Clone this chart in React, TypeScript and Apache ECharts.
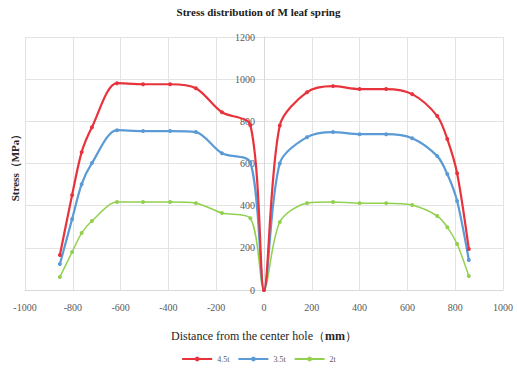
import React, { useEffect, useRef } from "react";
import * as echarts from "echarts";

const seriesNames = ["4.5t", "3.5t", "2t"];
const xPositions = [-854, -803, -763, -720, -615, -506, -393, -285, -176, -57, 0, 66, 180, 289, 400, 511, 620, 725, 767, 808, 857];
const stress45 = [166, 450, 654, 772, 981, 976, 976, 957, 843, 782, 0, 780, 938, 967, 953, 953, 929, 825, 716, 554, 194];
const stress35 = [123, 336, 502, 602, 758, 754, 754, 749, 649, 605, 0, 600, 725, 749, 739, 739, 720, 635, 550, 422, 142];
const stress2 = [62, 180, 270, 327, 417, 417, 417, 412, 365, 340, 0, 322, 412, 417, 412, 412, 403, 351, 298, 218, 66];
const colors = ["#e8323c", "#5b9bd5", "#92d050"];
const xTicks = { min: -1000, max: 1000, interval: 200 };
const yTicks = { min: 0, max: 1200, interval: 200 };

const pairs = (vals: number[]) => xPositions.map((x, i) => [x, vals[i]]);

export default function App() {
  const ref = useRef<HTMLDivElement>(null);
  useEffect(() => {
    if (!ref.current) return;
    const chart = echarts.init(ref.current, undefined, { renderer: "svg" });
    const allSeries = [stress45, stress35, stress2];
    const gridLeft = 25;
    const gridRight = 14;
    const plotWidth = 517 - gridLeft - gridRight;
    chart.setOption({
      animation: false,
      backgroundColor: "#ffffff",
      title: {
        text: "Stress distribution of M leaf spring",
        left: "center",
        top: 1,
        textStyle: { fontFamily: "Liberation Serif", fontSize: 11, fontWeight: "bold", color: "#1a1a1a" },
      },
      legend: {
        data: seriesNames,
        bottom: 2,
        left: "center",
        itemWidth: 30,
        itemHeight: 6,
        itemGap: 8,
        textStyle: { fontFamily: "Liberation Serif", fontSize: 8, color: "#595959" },
      },
      grid: { left: gridLeft, right: gridRight, top: 37, bottom: 80, containLabel: false },
      xAxis: {
        type: "value",
        min: xTicks.min,
        max: xTicks.max,
        interval: xTicks.interval,
        axisLine: { show: true, lineStyle: { color: "#d9d9d9" } },
        axisTick: { show: false },
        splitLine: { show: true, lineStyle: { color: "#e3e3e3" } },
        axisLabel: {
          fontFamily: "Liberation Serif",
          fontSize: 10,
          color: "#595959",
          margin: 12,
          formatter: (v: number) => String(v),
        },
        name: "Distance from the center hole（{b|mm}）",
        nameLocation: "middle",
        nameGap: 40,
        nameTextStyle: {
          fontFamily: "Liberation Serif",
          fontSize: 12,
          color: "#262626",
          rich: { b: { fontFamily: "Liberation Serif", fontSize: 12, fontWeight: "bold", color: "#262626" } },
        },
      },
      yAxis: {
        type: "value",
        min: yTicks.min,
        max: yTicks.max,
        interval: yTicks.interval,
        position: "left",
        offset: -plotWidth / 2,
        axisLine: { show: true, onZero: false, lineStyle: { color: "#d9d9d9" } },
        axisTick: { show: false },
        splitLine: { show: true, lineStyle: { color: "#e3e3e3" } },
        axisLabel: {
          fontFamily: "Liberation Serif",
          fontSize: 10,
          color: "#595959",
          margin: 9,
          formatter: (v: number) => String(v),
        },
      },
      graphic: [
        {
          type: "text",
          x: 15,
          y: 165,
          rotation: Math.PI / 2,
          style: {
            text: "Stress（MPa）",
            fontFamily: "Liberation Serif",
            fontSize: 11,
            fontWeight: "bold",
            fill: "#262626",
            align: "center",
            verticalAlign: "middle",
          },
        },
      ],
      series: allSeries.map((vals, i) => ({
        name: seriesNames[i],
        type: "line",
        data: pairs(vals),
        smooth: 0.3,
        symbol: "circle",
        symbolSize: 4,
        lineStyle: { color: colors[i], width: i === 2 ? 1.5 : 2.2 },
        itemStyle: { color: colors[i] },
        z: 3 - i,
      })),
    });
    return () => chart.dispose();
  }, []);
  return <div ref={ref} style={{ width: 517, height: 370, position: "absolute", left: 0, top: 0 }} />;
}
